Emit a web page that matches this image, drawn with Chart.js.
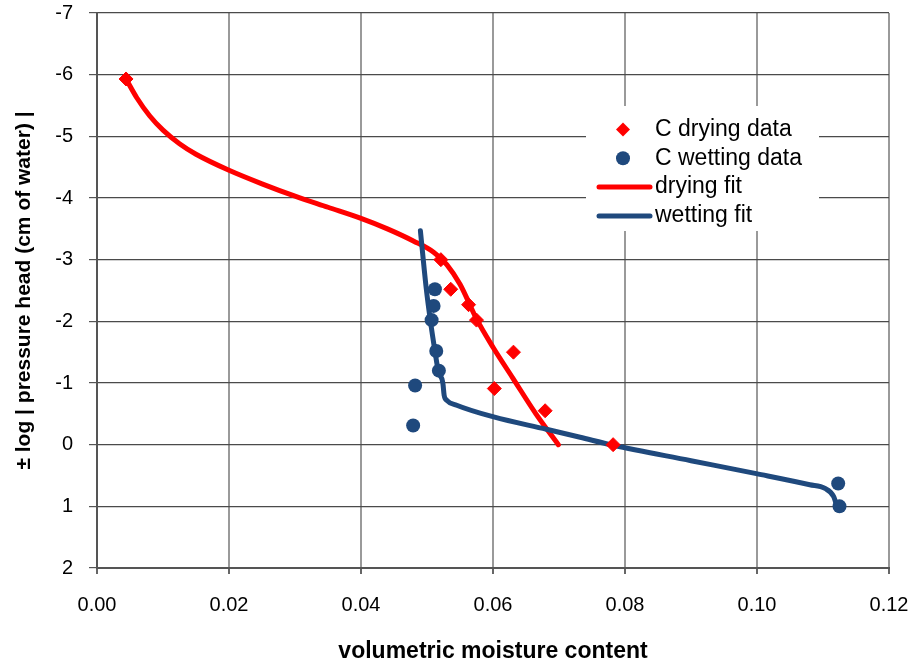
<!DOCTYPE html>
<html>
<head>
<meta charset="utf-8">
<script src="https://cdn.jsdelivr.net/npm/chart.js@4/dist/chart.umd.min.js"></script>
<style>
  html, body { margin: 0; padding: 0; background: #fff; }
  canvas { display: block; }
</style>
</head>
<body>
<canvas id="chart" width="913" height="662"></canvas>
<script>
// Measured drying points: moisture content and ± log|pressure head|
const dryingX = [0.0044, 0.0521, 0.0536, 0.0563, 0.0575, 0.0631, 0.0602, 0.0679, 0.0782];
const dryingY = [-5.93, -3.00, -2.52, -2.27, -2.02, -1.50, -0.91, -0.55, 0.00];

// Measured wetting points
const wettingX = [0.0512, 0.0510, 0.0507, 0.0514, 0.0518, 0.0482, 0.0479, 0.1123, 0.1125];
const wettingY = [-2.52, -2.25, -2.02, -1.52, -1.20, -0.96, -0.31, 0.63, 1.00];

// Fitted drying curve
const dryingFitX = [0.0044, 0.0060, 0.0080, 0.0100, 0.0125, 0.0150, 0.0200, 0.0250, 0.0300, 0.0350,
                    0.0400, 0.0440, 0.0480, 0.0510, 0.0530, 0.0550, 0.0575, 0.0600, 0.0630, 0.0665, 0.0699];
const dryingFitY = [-5.93, -5.63, -5.33, -5.10, -4.88, -4.71, -4.45, -4.23, -4.03, -3.85,
                    -3.67, -3.50, -3.30, -3.12, -2.92, -2.60, -2.04, -1.58, -1.08, -0.50, 0.00];

// Fitted wetting curve
const wettingFitX = [0.0490, 0.0499, 0.0505, 0.0512, 0.0517, 0.0524, 0.0526, 0.0530, 0.0545, 0.0601,
                     0.0681, 0.0732, 0.0782, 0.0900, 0.0999, 0.1080, 0.1103, 0.1116, 0.1121];
const wettingFitY = [-3.47, -2.52, -2.02, -1.52, -1.20, -1.00, -0.80, -0.72, -0.64, -0.45,
                     -0.25, -0.12, 0.01, 0.26, 0.47, 0.65, 0.71, 0.84, 1.00];

// Axis ticks
const xTicks = [0.00, 0.02, 0.04, 0.06, 0.08, 0.10, 0.12];
const yTicks = [-7, -6, -5, -4, -3, -2, -1, 0, 1, 2];

const legendLabels = ['C drying data', 'C wetting data', 'drying fit', 'wetting fit'];

const RED = '#ff0000';
const BLUE = '#1f497d';
const FONT = '"Liberation Sans", Arial, Helvetica, sans-serif';

const toPoints = (xs, ys) => xs.map((x, i) => ({ x: x, y: ys[i] }));

// Legend drawn on a white panel inside the plot area
const panelLegend = {
  id: 'panelLegend',
  afterDraw(chart, args, opts) {
    const ctx = chart.ctx;
    ctx.save();
    ctx.fillStyle = '#ffffff';
    ctx.fillRect(opts.left, opts.top, opts.width, opts.height);
    ctx.font = opts.fontSize + 'px ' + FONT;
    ctx.textBaseline = 'middle';
    ctx.textAlign = 'left';
    legendLabels.forEach((label, i) => {
      const ds = chart.data.datasets[i];
      const y = opts.top + opts.firstRow + i * opts.rowGap;
      if (ds.showLine) {
        ctx.strokeStyle = ds.borderColor;
        ctx.lineWidth = ds.borderWidth;
        ctx.lineCap = 'round';
        ctx.beginPath();
        ctx.moveTo(opts.lineStart, y);
        ctx.lineTo(opts.lineEnd, y);
        ctx.stroke();
      } else {
        ctx.fillStyle = ds.backgroundColor;
        ctx.beginPath();
        const r = ds.pointRadius;
        if (ds.pointStyle === 'rectRot') {
          ctx.moveTo(opts.markerX - r, y);
          ctx.lineTo(opts.markerX, y - r);
          ctx.lineTo(opts.markerX + r, y);
          ctx.lineTo(opts.markerX, y + r);
          ctx.closePath();
        } else {
          ctx.arc(opts.markerX, y, r, 0, Math.PI * 2);
        }
        ctx.fill();
      }
      ctx.fillStyle = '#000';
      ctx.fillText(label, opts.textX, y);
    });
    ctx.restore();
  }
};

new Chart(document.getElementById('chart'), {
  type: 'scatter',
  data: {
    datasets: [
      {
        label: legendLabels[0],
        data: toPoints(dryingX, dryingY),
        pointStyle: 'rectRot',
        pointRadius: 7,
        backgroundColor: RED,
        borderColor: RED,
        borderWidth: 1,
        order: 1
      },
      {
        label: legendLabels[1],
        data: toPoints(wettingX, wettingY),
        pointStyle: 'circle',
        pointRadius: 7,
        backgroundColor: BLUE,
        borderColor: BLUE,
        borderWidth: 0,
        order: 0
      },
      {
        label: legendLabels[2],
        data: toPoints(dryingFitX, dryingFitY),
        showLine: true,
        pointRadius: 0,
        borderColor: RED,
        backgroundColor: RED,
        borderWidth: 5,
        borderCapStyle: 'round',
        borderJoinStyle: 'round',
        cubicInterpolationMode: 'monotone',
        fill: false,
        order: 3
      },
      {
        label: legendLabels[3],
        data: toPoints(wettingFitX, wettingFitY),
        showLine: true,
        pointRadius: 0,
        borderColor: BLUE,
        backgroundColor: BLUE,
        borderWidth: 5,
        borderCapStyle: 'round',
        borderJoinStyle: 'round',
        cubicInterpolationMode: 'monotone',
        fill: false,
        order: 2
      }
    ]
  },
  options: {
    responsive: false,
    animation: false,
    devicePixelRatio: 1,
    layout: { padding: { top: 13, right: 24, bottom: 0, left: 0 } },
    plugins: {
      legend: { display: false },
      tooltip: { enabled: false },
      panelLegend: {
        left: 586, top: 106, width: 233, height: 125,
        firstRow: 23.5, rowGap: 28.8,
        markerX: 623, lineStart: 599, lineEnd: 650, textX: 655,
        fontSize: 23
      }
    },
    scales: {
      x: {
        type: 'linear',
        position: 'bottom',
        min: 0,
        max: 0.12,
        afterBuildTicks: s => { s.ticks = xTicks.map(v => ({ value: v })); },
        afterFit: s => {
          s.height = 94;
          s.paddingLeft = 0;
          s.paddingRight = 0;
        },
        ticks: {
          callback: v => Number(v).toFixed(2),
          color: '#000',
          font: { family: FONT, size: 20 },
          padding: 19,
          maxRotation: 0
        },
        grid: { color: '#9a9a9a', lineWidth: 2, tickLength: 6, tickColor: '#666' },
        border: { color: '#555', width: 2 },
        title: {
          display: true,
          text: 'volumetric moisture content',
          color: '#000',
          font: { family: FONT, size: 23, weight: 'bold' },
          padding: { top: 0, bottom: -3 }
        }
      },
      y: {
        type: 'linear',
        reverse: true,
        min: -7,
        max: 2,
        afterBuildTicks: s => { s.ticks = yTicks.map(v => ({ value: v })); },
        afterFit: s => {
          s.width = 97;
          s.paddingTop = 0;
          s.paddingBottom = 0;
        },
        ticks: {
          callback: v => String(v),
          color: '#000',
          font: { family: FONT, size: 20 },
          padding: 16
        },
        grid: { color: '#4a4a4a', lineWidth: 1.2, tickLength: 8, tickColor: '#555' },
        border: { color: '#555', width: 2 },
        title: {
          display: true,
          text: '± log | pressure head (cm of water) |',
          color: '#000',
          font: { family: FONT, size: 21, weight: 'bold' },
          padding: { top: 12, bottom: 0 }
        }
      }
    }
  },
  plugins: [panelLegend]
});
</script>
</body>
</html>
